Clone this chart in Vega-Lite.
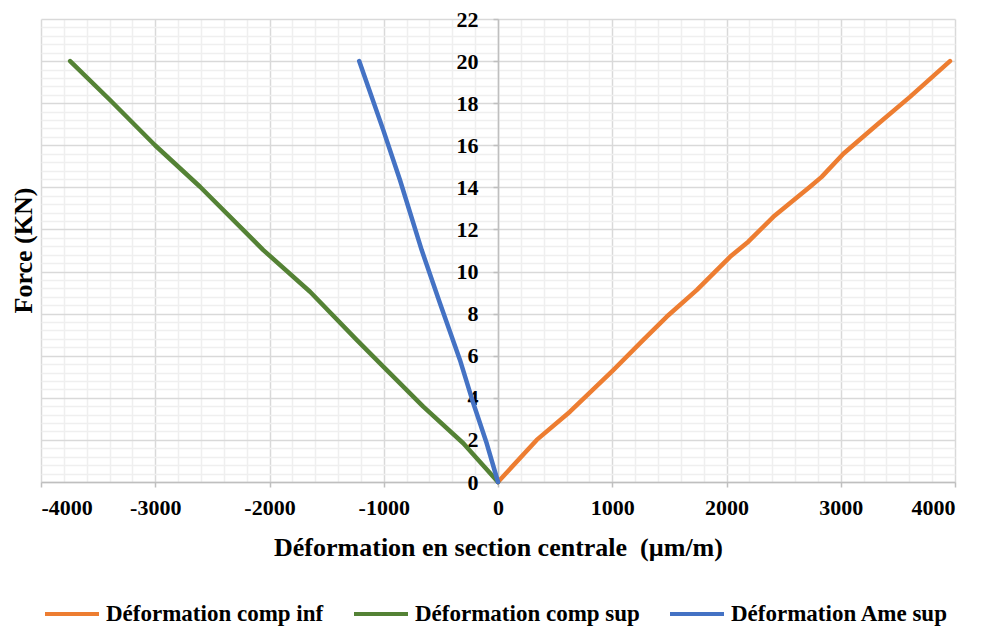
{
  "$schema": "https://vega.github.io/schema/vega-lite/v6.json",
  "width": 914,
  "height": 463,
  "autosize": {"type": "none"},
  "padding": {"left": 41, "top": 19, "right": 31, "bottom": 148},
  "background": "white",
  "config": {"view": {"stroke": null}, "font": "Liberation Serif"},
  "data": {
    "values": [
      {"s": "Déformation comp inf", "x": 0, "F": 0},
      {"s": "Déformation comp inf", "x": 339, "F": 2.0},
      {"s": "Déformation comp inf", "x": 630, "F": 3.34},
      {"s": "Déformation comp inf", "x": 1009, "F": 5.32},
      {"s": "Déformation comp inf", "x": 1272, "F": 6.75},
      {"s": "Déformation comp inf", "x": 1476, "F": 7.85},
      {"s": "Déformation comp inf", "x": 1739, "F": 9.12},
      {"s": "Déformation comp inf", "x": 2031, "F": 10.7},
      {"s": "Déformation comp inf", "x": 2191, "F": 11.42},
      {"s": "Déformation comp inf", "x": 2410, "F": 12.6},
      {"s": "Déformation comp inf", "x": 2731, "F": 14.03},
      {"s": "Déformation comp inf", "x": 2833, "F": 14.5},
      {"s": "Déformation comp inf", "x": 3023, "F": 15.6},
      {"s": "Déformation comp inf", "x": 3315, "F": 16.96},
      {"s": "Déformation comp inf", "x": 3606, "F": 18.3},
      {"s": "Déformation comp inf", "x": 3956, "F": 20.0},
      {"s": "Déformation comp sup", "x": 0, "F": 0},
      {"s": "Déformation comp sup", "x": -304, "F": 1.84},
      {"s": "Déformation comp sup", "x": -654, "F": 3.58},
      {"s": "Déformation comp sup", "x": -1004, "F": 5.48},
      {"s": "Déformation comp sup", "x": -1237, "F": 6.75},
      {"s": "Déformation comp sup", "x": -1645, "F": 9.04},
      {"s": "Déformation comp sup", "x": -2054, "F": 11.02},
      {"s": "Déformation comp sup", "x": -2200, "F": 11.81},
      {"s": "Déformation comp sup", "x": -2608, "F": 14.03},
      {"s": "Déformation comp sup", "x": -3002, "F": 16.0},
      {"s": "Déformation comp sup", "x": -3396, "F": 18.15},
      {"s": "Déformation comp sup", "x": -3745, "F": 20.0},
      {"s": "Déformation Ame sup", "x": 0, "F": 0},
      {"s": "Déformation Ame sup", "x": -99, "F": 1.84},
      {"s": "Déformation Ame sup", "x": -216, "F": 3.74},
      {"s": "Déformation Ame sup", "x": -333, "F": 5.8},
      {"s": "Déformation Ame sup", "x": -508, "F": 8.49},
      {"s": "Déformation Ame sup", "x": -668, "F": 11.02},
      {"s": "Déformation Ame sup", "x": -858, "F": 14.35},
      {"s": "Déformation Ame sup", "x": -1004, "F": 16.72},
      {"s": "Déformation Ame sup", "x": -1215, "F": 20.0}
    ]
  },
  "layer": [
    {
      "mark": {"type": "line", "opacity": 0},
      "encoding": {
        "x": {
          "field": "x", "type": "quantitative",
          "scale": {"domain": [-4000, 4000], "nice": false, "zero": false},
          "axis": {
            "orient": "bottom", "grid": true, "gridColor": "#efefef", "gridWidth": 1.5,
            "values": [-3800,-3600,-3400,-3200,-2800,-2600,-2400,-2200,-1800,-1600,-1400,-1200,-800,-600,-400,-200,200,400,600,800,1200,1400,1600,1800,2200,2400,2600,2800,3200,3400,3600,3800],
            "labels": false, "ticks": false, "domain": false, "title": null
          }
        },
        "y": {
          "field": "F", "type": "quantitative",
          "scale": {"domain": [0, 22], "nice": false},
          "axis": {
            "orient": "left", "grid": true, "gridColor": "#efefef", "gridWidth": 1.5,
            "values": [0.4,0.8,1.2,1.6,2.4,2.8,3.2,3.6,4.4,4.8,5.2,5.6,6.4,6.8,7.2,7.6,8.4,8.8,9.2,9.6,10.4,10.8,11.2,11.6,12.4,12.8,13.2,13.6,14.4,14.8,15.2,15.6,16.4,16.8,17.2,17.6,18.4,18.8,19.2,19.6,20.4,20.8,21.2,21.6],
            "labels": false, "ticks": false, "domain": false, "title": null
          }
        },
        "detail": {"field": "s"}
      }
    },
    {
      "mark": {"type": "line", "strokeWidth": 4.5, "strokeCap": "round", "strokeJoin": "round"},
      "encoding": {
        "x": {
          "field": "x", "type": "quantitative",
          "scale": {"domain": [-4000, 4000], "nice": false, "zero": false},
          "axis": {
            "orient": "bottom", "grid": true, "gridColor": "#d9d9d9", "gridWidth": 1.5,
            "values": [-4000,-3000,-2000,-1000,0,1000,2000,3000,4000],
            "labelExpr": "'' + datum.value",
            "domainColor": "#bfbfbf", "domainWidth": 1.5,
            "tickColor": "#bfbfbf", "tickSize": 5, "tickWidth": 1.5,
            "labelFont": "Liberation Serif", "labelFontSize": 22, "labelFontWeight": "bold", "labelColor": "#000000", "labelPadding": 10,
            "title": "Déformation en section centrale\u00a0 (µm/m)",
            "titleFont": "Liberation Serif", "titleFontSize": 26, "titleFontWeight": "bold", "titleColor": "#000000", "titlePadding": 16
          }
        },
        "y": {
          "field": "F", "type": "quantitative",
          "scale": {"domain": [0, 22], "nice": false},
          "axis": {
            "orient": "left", "offset": -457, "grid": true, "gridColor": "#d9d9d9", "gridWidth": 1.5,
            "values": [0,2,4,6,8,10,12,14,16,18,20,22],
            "domainColor": "#bfbfbf", "domainWidth": 1.5,
            "tickColor": "#bfbfbf", "tickSize": 5, "tickWidth": 1.5,
            "labelFont": "Liberation Serif", "labelFontSize": 22, "labelFontWeight": "bold", "labelColor": "#000000", "labelPadding": 15,
            "title": "Force (KN)",
            "titleFont": "Liberation Serif", "titleFontSize": 26, "titleFontWeight": "bold", "titleColor": "#000000",
            "titleX": -475, "titleY": 231, "titleAngle": 270, "titleAlign": "center", "titleBaseline": "middle"
          }
        },
        "color": {
          "field": "s", "type": "nominal",
          "scale": {"domain": ["Déformation comp inf", "Déformation comp sup", "Déformation Ame sup"], "range": ["#ED7D31", "#548235", "#4472C4"]},
          "legend": {
            "orient": "none", "legendX": 2, "legendY": 566, "direction": "horizontal", "title": null,
            "symbolType": "stroke", "symbolSize": 2916, "symbolStrokeWidth": 4,
            "labelFont": "Liberation Serif", "labelFontSize": 23, "labelFontWeight": "bold", "labelColor": "#000000",
            "labelOffset": 5, "columnPadding": 22, "labelLimit": 400
          }
        },
        "order": {"field": "F", "type": "quantitative"}
      }
    }
  ],
  "resolve": {"axis": {"x": "independent", "y": "independent"}}
}
